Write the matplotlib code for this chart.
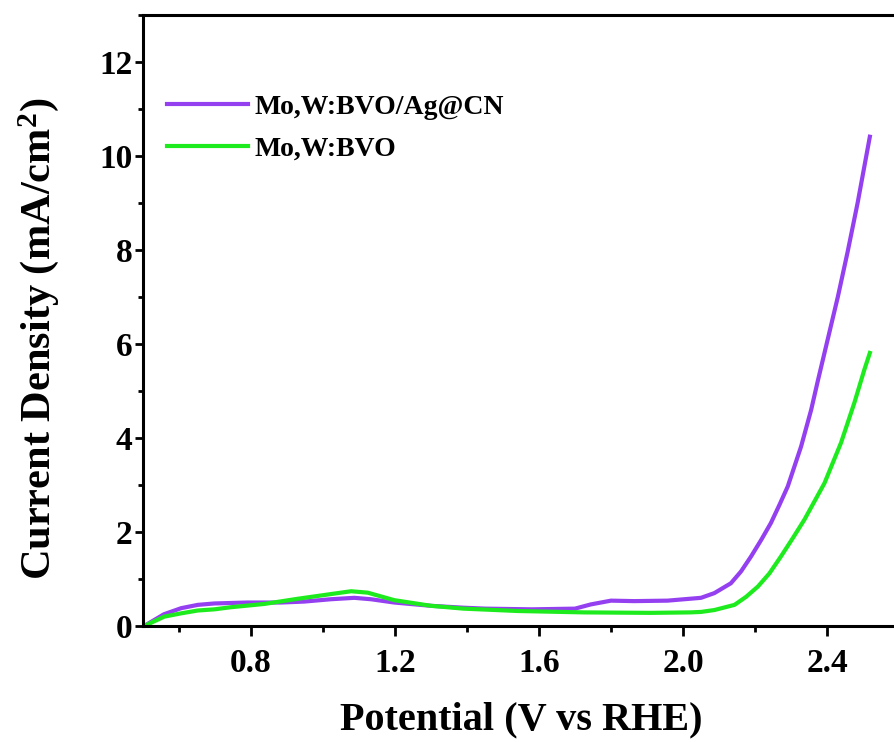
import matplotlib
matplotlib.use("Agg")
import matplotlib.pyplot as plt
from matplotlib.ticker import MultipleLocator

plt.rcParams.update({
    "font.family": "Liberation Serif",
    "font.weight": "bold",
    "mathtext.fontset": "custom",
    "mathtext.rm": "Liberation Serif:bold",
    "mathtext.bf": "Liberation Serif:bold",
    "mathtext.default": "bf",
    "axes.linewidth": 2.2,
    "xtick.direction": "out",
    "ytick.direction": "out",
    "xtick.major.size": 7,
    "xtick.minor.size": 4,
    "ytick.major.size": 6,
    "ytick.minor.size": 3.5,
    "xtick.major.width": 2.0,
    "xtick.minor.width": 2.0,
    "ytick.major.width": 2.0,
    "ytick.minor.width": 2.0,
})

# LSV curves (V vs RHE, mA/cm2)
v_ag = [0.503, 0.558, 0.606, 0.652, 0.698, 0.79, 0.883, 0.947, 1.022, 1.087,
        1.133, 1.198, 1.30, 1.39, 1.45, 1.58, 1.70, 1.744, 1.80, 1.864,
        1.957, 2.05, 2.087, 2.133, 2.161, 2.189, 2.217, 2.244, 2.268, 2.291,
        2.328, 2.356, 2.374, 2.402, 2.43, 2.457, 2.485, 2.519]
j_ag = [0.0, 0.25, 0.38, 0.45, 0.48, 0.50, 0.50, 0.52, 0.57, 0.60,
        0.57, 0.50, 0.43, 0.39, 0.37, 0.355, 0.37, 0.46, 0.54, 0.53,
        0.54, 0.60, 0.70, 0.91, 1.16, 1.48, 1.83, 2.19, 2.58, 2.97,
        3.82, 4.60, 5.20, 6.10, 7.00, 7.95, 9.00, 10.41]

v_bvo = [0.503, 0.559, 0.606, 0.652, 0.698, 0.744, 0.837, 0.93, 1.022, 1.078,
         1.124, 1.198, 1.30, 1.39, 1.54, 1.725, 1.91, 2.02, 2.05, 2.087,
         2.143, 2.175, 2.208, 2.24, 2.272, 2.305, 2.337, 2.365, 2.393, 2.439,
         2.476, 2.504, 2.519]
j_bvo = [0.0, 0.20, 0.27, 0.33, 0.355, 0.40, 0.47, 0.58, 0.68, 0.74,
         0.71, 0.55, 0.43, 0.37, 0.32, 0.29, 0.28, 0.29, 0.30, 0.34,
         0.45, 0.62, 0.84, 1.12, 1.48, 1.87, 2.26, 2.65, 3.04, 3.90,
         4.75, 5.46, 5.81]

labels = ["Mo,W:BVO/Ag@CN", "Mo,W:BVO"]
colors = ["#9440F0", "#1EEB1E"]

fig = plt.figure(figsize=(8.94, 7.42), dpi=100)
# axes runs past the right edge, as in the original crop
ax = fig.add_axes([0.16, 0.1563, 0.8456, 0.8235])

ax.plot(v_ag, j_ag, color=colors[0], lw=3, label=labels[0])
ax.plot(v_bvo, j_bvo, color=colors[1], lw=3, label=labels[1])

ax.set_xlim(0.5, 2.6)
ax.set_ylim(0, 13)
ax.xaxis.set_minor_locator(MultipleLocator(0.2))
ax.yaxis.set_major_locator(MultipleLocator(2))
ax.yaxis.set_minor_locator(MultipleLocator(1))
ax.set_xticks([0.8, 1.2, 1.6, 2.0, 2.4])
ax.set_xticklabels(["0.8", "1.2", "1.6", "2.0", "2.4"])
ax.tick_params(axis="x", labelsize=24, pad=9)
ax.tick_params(axis="y", labelsize=24, pad=1.5)

ax.set_xlabel("Potential (V vs RHE)", fontsize=29, fontweight="bold", labelpad=16)
ax.set_ylabel("Current Density (mA/cm$^{2}$)", fontsize=30.5, fontweight="bold")
ax.yaxis.set_label_coords(-0.108, 0.47)

ax.legend(loc="upper left", bbox_to_anchor=(0.032, 0.870), frameon=False,
          fontsize=20, handlelength=2.9, handletextpad=0.25, labelspacing=0.6,
          borderaxespad=0, borderpad=0)

fig.savefig("out.png", dpi=100)
